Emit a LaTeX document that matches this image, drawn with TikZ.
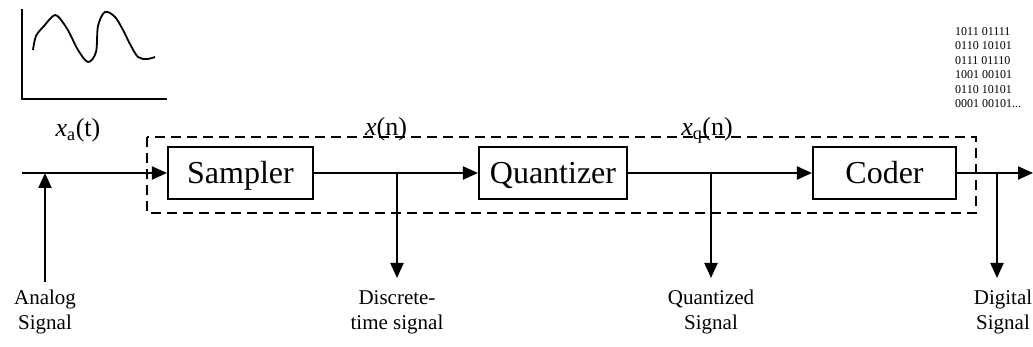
\documentclass[tikz,border=0pt]{standalone}
\usepackage{fontspec}
\setmainfont{Liberation Serif}
\usetikzlibrary{arrows.meta}
\begin{document}
\begin{tikzpicture}[x=1pt,y=-1pt,
  blk/.style={draw, line width=2.1pt, minimum width=#1, minimum height=52pt, inner sep=0pt,
    text height=21pt, text depth=0pt, font=\fontsize{32}{34}\selectfont},
  arr/.style={-{Triangle[length=15pt,width=13pt]}, line width=2.1pt},
  sig/.style={font=\fontsize{26}{28}\selectfont, anchor=base, inner sep=0pt},
  lab/.style={font=\fontsize{21}{25}\selectfont, align=center, anchor=north, inner sep=0pt},
  dashbox/.style={line width=1.7pt, dash pattern=on 10pt off 6pt}]
\useasboundingbox (0,0) rectangle (1033,347);

% waveform sketch
\draw[line width=1.7pt] (22,9) -- (22,99) -- (167,99);
\draw[line width=1.8pt, line join=round] plot[smooth, tension=0.55] coordinates {(33,50) (36,36) (44,26) (55,15) (64,24) (70,34) (78,50) (88,62) (96,52) (98,26) (105,12) (115,17) (123,30) (130,44) (138,57) (147,59) (155,57)};

% binary stream
\node[font=\fontsize{12}{14.5}\selectfont, align=left, anchor=north west, inner sep=0pt] (bin) at (955,27)
  {1011 01111\\0110 10101\\0111 01110\\1001 00101\\0110 10101\\0001 00101...};

% dashed enclosure
\draw[dashbox] (147,137) rectangle (976,213);

% blocks
\node[blk=145pt] (sampler) at (240.5,173) {Sampler};
\node[blk=148pt] (quant) at (553,173) {Quantizer};
\node[blk=143pt] (coder) at (884.5,173) {Coder};

% coordinates
\coordinate (start) at (22,173);
\coordinate (ajoin) at (45,173);
\coordinate (abot) at (45,282);
\coordinate (b1) at (397,173);
\coordinate (b1e) at (397,278);
\coordinate (b2) at (711,173);
\coordinate (b2e) at (711,278);
\coordinate (b3) at (997,173);
\coordinate (b3e) at (997,278);
\coordinate (outend) at (1033,173);

% connectors
\draw[arr] (start) -- (sampler.west);
\draw[arr] (sampler.east) -- (quant.west);
\draw[arr] (quant.east) -- (coder.west);
\draw[arr] (coder.east) -- (outend);
\draw[arr] (abot) -- (ajoin);
\draw[arr] (b1) -- (b1e);
\draw[arr] (b2) -- (b2e);
\draw[arr] (b3) -- (b3e);

% signal labels
\node[sig] (xa) at (78,137) {\textit{x}\textsubscript{a}(t)};
\node[sig] (xn) at (386,136) {\textit{x}(n)};
\node[sig] (xq) at (707,136) {\textit{x}\textsubscript{q}(n)};

% bottom labels
\node[lab] (l1) at (45,290) {Analog\\Signal};
\node[lab] (l2) at (397,290) {Discrete-\\time signal};
\node[lab] (l3) at (711,290) {Quantized\\Signal};
\node[lab] (l4) at (1003,290) {Digital\\Signal};
\end{tikzpicture}
\end{document}
